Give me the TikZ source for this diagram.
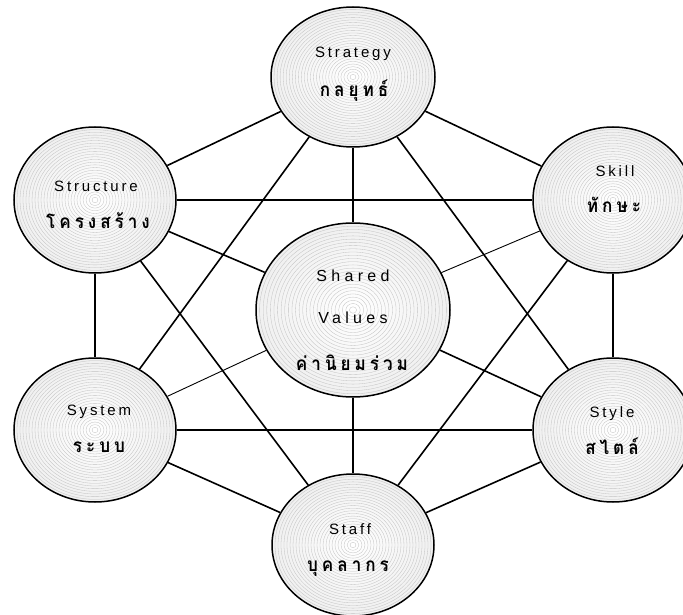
\documentclass[tikz,border=0pt]{standalone}
\usepackage{fontspec}
\setmainfont{Liberation Sans}
\newfontfamily\enf[LetterSpace=19]{Liberation Sans}
\newfontfamily\enfb[LetterSpace=27]{Liberation Sans}
\newfontfamily\thf[Script=Thai,FakeStretch=0.9]{Loma}
\usetikzlibrary{shapes.geometric}
\newcommand\thsp{\hspace{0.21em}}
\tikzset{
  oval/.style 2 args={ellipse, draw=black, line width=1.5pt, inner sep=0pt,
    minimum width={2*#1*1pt}, minimum height={2*#2*1pt},
    inner color=white, outer color=gray!12,
    path picture={\foreach \k in {1,...,27}{
      \draw[gray!48, line width=0.32pt] (path picture bounding box.center)
        ellipse ({\k*#1/27*1pt} and {\k*#2/27*1pt});}}},
  conn/.style={line width=1.6pt, black},
  thinconn/.style={line width=0.9pt, black},
  en/.style={font=\enf\fontsize{15}{17}\selectfont, text=black, inner sep=0pt, anchor=base},
  enbig/.style={font=\enfb\fontsize{16}{18}\selectfont, text=black, inner sep=0pt, anchor=base},
  th/.style={font=\thf\bfseries\fontsize{19}{21}\selectfont, text=black, inner sep=0pt, anchor=base},
}
\begin{document}
\begin{tikzpicture}[x=1pt, y=-1pt]
\useasboundingbox (0,0) rectangle (683,615);
\clip (0,0) rectangle (683,615);
% ellipses
\node[oval={82}{70}] (strat) at (353,77) {};
\node[oval={81}{73}] (struct) at (95,200) {};
\node[oval={80}{73}] (skill) at (613,200) {};
\node[oval={97}{87}] (shared) at (353,310) {};
\node[oval={81}{72}] (system) at (95,430) {};
\node[oval={80}{72}] (style) at (613,430) {};
\node[oval={81}{71}] (staff) at (353,545) {};
% connectors
\draw[conn] (strat) -- (struct);
\draw[conn] (strat) -- (skill);
\draw[conn] (strat) -- (shared);
\draw[conn] (strat) -- (system);
\draw[conn] (strat) -- (style);
\draw[conn] (struct) -- (skill);
\draw[conn] (struct) -- (shared);
\draw[conn] (struct) -- (system);
\draw[conn] (struct) -- (staff);
\draw[thinconn] (skill) -- (shared);
\draw[conn] (skill) -- (style);
\draw[conn] (skill) -- (staff);
\draw[thinconn] (shared) -- (system);
\draw[conn] (shared) -- (style);
\draw[conn] (shared) -- (staff);
\draw[conn] (system) -- (style);
\draw[conn] (system) -- (staff);
\draw[conn] (style) -- (staff);
% texts
\node[en] (t1) at (353,58) {Strategy};
\node[th] (h1) at (354,97) {ก\thsp ล\thsp ยุ\thsp ท\thsp ธ์};
\node[en] (t2) at (96,192) {Structure};
\node[th] (h2) at (98,228) {โ\thsp ค\thsp ร\thsp ง\thsp ส\thsp ร้\thsp า\thsp ง};
\node[en] (t3) at (615,177) {Skill};
\node[th] (h3) at (614,212) {ทั\thsp ก\thsp ษ\thsp ะ};
\node[enbig] (t4) at (353,281) {Shared};
\node[enbig] (t5) at (353,323) {Values};
\node[th] (h4) at (352,370) {ค่\thsp า\thsp นิ\thsp ย\thsp ม\thsp ร่\thsp ว\thsp ม};
\node[en] (t6) at (99,415) {System};
\node[th] (h5) at (99,452) {ร\thsp ะ\thsp บ\thsp บ};
\node[en] (t7) at (612,417) {Style};
\node[th] (h6) at (612,454) {ส\thsp ไ\thsp ต\thsp ล์};
\node[en] (t8) at (350,534) {Staff};
\node[th] (h7) at (348,571) {บุ\thsp ค\thsp ล\thsp า\thsp ก\thsp ร};
\end{tikzpicture}
\end{document}
